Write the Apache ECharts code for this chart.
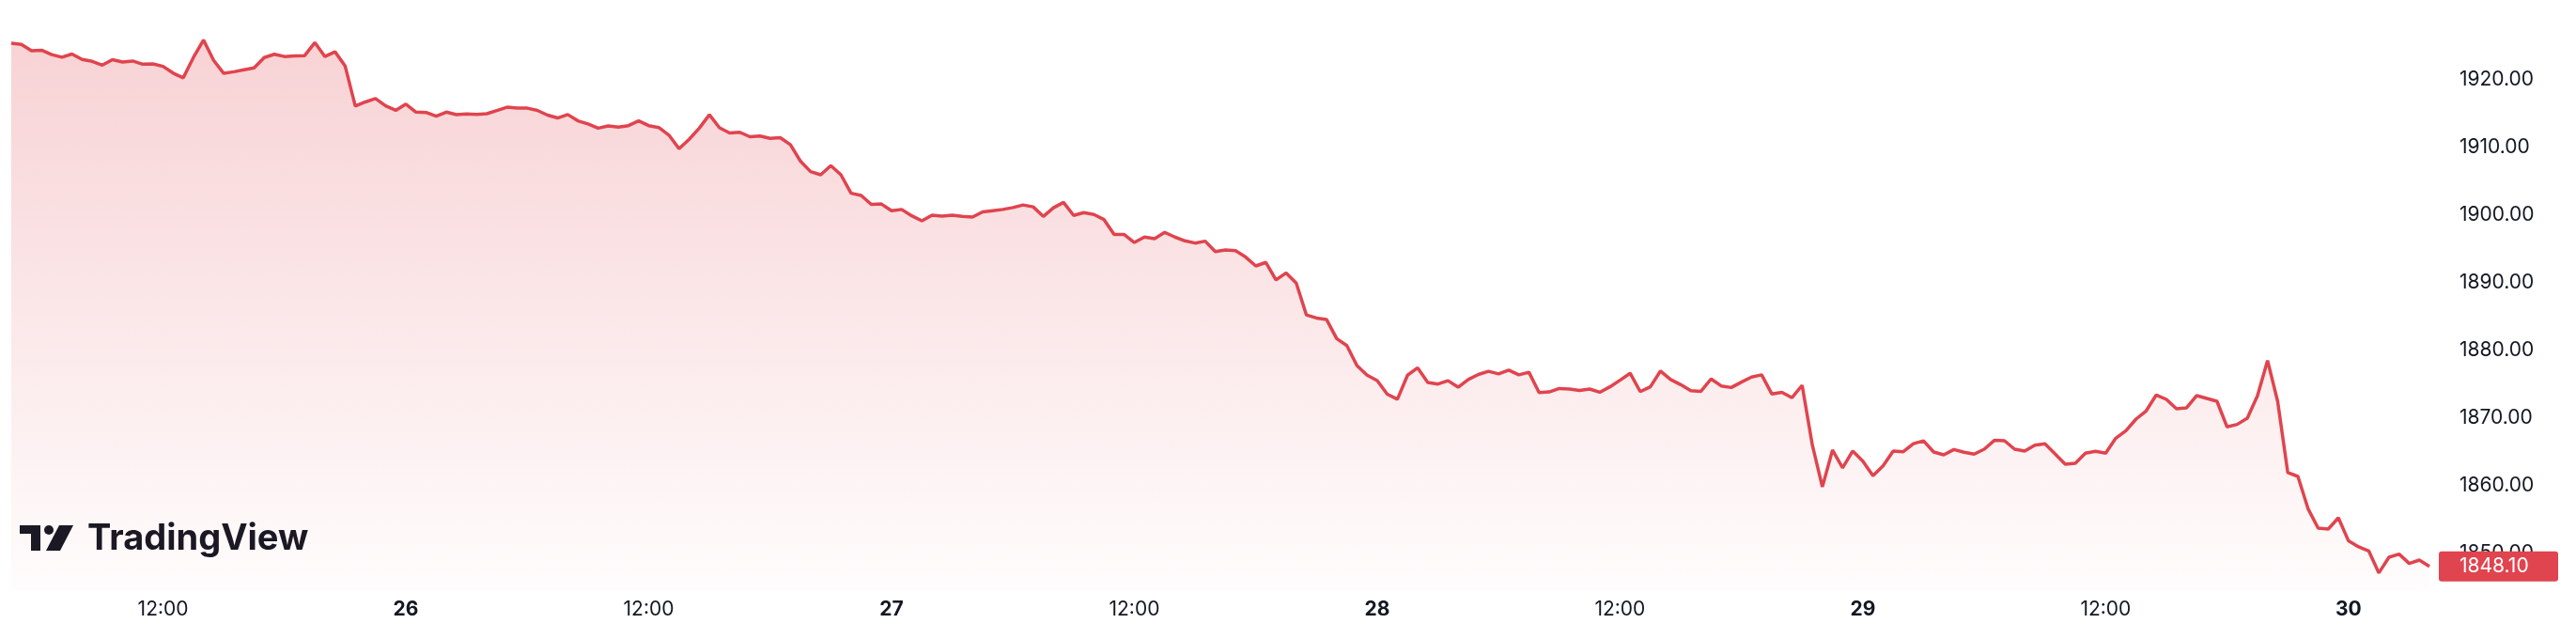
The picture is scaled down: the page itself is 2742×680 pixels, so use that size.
<!DOCTYPE html>
<html>
<head>
<meta charset="utf-8">
<script src="https://cdn.jsdelivr.net/npm/echarts@6/dist/echarts.min.js"></script>
<style>
  html, body { margin: 0; padding: 0; background: #ffffff; }
  #chart { width: 2742px; height: 680px; }
</style>
</head>
<body>
<div id="chart"></div>
<script>
// 30-minute closes, from the 25th 04:30 to the 30th 04:00
const startDay = 25;
const startMinute = 4 * 60 + 30;
const stepMinutes = 30;

const prices = [
  1925.42, 1925.25, 1924.31, 1924.39, 1923.73, 1923.35, 1923.82, 1923.03, 1922.74, 1922.18,
  1922.98, 1922.65, 1922.79, 1922.32, 1922.37, 1922.00, 1921.00, 1920.30, 1923.30, 1925.90,
  1922.88, 1920.96, 1921.20, 1921.48, 1921.76, 1923.30, 1923.78, 1923.45, 1923.54, 1923.59,
  1925.51, 1923.45, 1924.15, 1922.04, 1916.13, 1916.74, 1917.25, 1916.17, 1915.50, 1916.41,
  1915.24, 1915.19, 1914.63, 1915.24, 1914.86, 1914.96, 1914.91, 1915.00, 1915.48, 1915.96,
  1915.82, 1915.82, 1915.49, 1914.79, 1914.37, 1914.88, 1913.95, 1913.48, 1912.87, 1913.20,
  1913.01, 1913.24, 1913.95, 1913.24, 1912.96, 1911.83, 1909.82, 1911.22, 1912.87, 1914.84,
  1912.91, 1912.16, 1912.26, 1911.60, 1911.69, 1911.36, 1911.46, 1910.43, 1907.99, 1906.44,
  1905.97, 1907.33, 1905.97, 1903.25, 1902.92, 1901.60, 1901.65, 1900.66, 1900.85, 1899.91,
  1899.16, 1900.00, 1899.87, 1900.00, 1899.82, 1899.72, 1900.48, 1900.67, 1900.85, 1901.13,
  1901.51, 1901.23, 1899.82, 1901.09, 1901.89, 1899.96, 1900.38, 1900.10, 1899.35, 1897.15,
  1897.15, 1895.97, 1896.77, 1896.54, 1897.47, 1896.77, 1896.21, 1895.88, 1896.16, 1894.61,
  1894.85, 1894.75, 1893.81, 1892.50, 1893.02, 1890.43, 1891.47, 1889.97, 1885.27, 1884.80,
  1884.57, 1881.75, 1880.72, 1877.77, 1876.36, 1875.56, 1873.54, 1872.79, 1876.36, 1877.44,
  1875.28, 1875.04, 1875.54, 1874.58, 1875.71, 1876.46, 1876.93, 1876.55, 1877.11, 1876.41,
  1876.79, 1873.78, 1873.88, 1874.39, 1874.30, 1874.11, 1874.30, 1873.83, 1874.63, 1875.61,
  1876.64, 1873.92, 1874.63, 1876.97, 1875.71, 1874.95, 1874.06, 1873.97, 1875.80, 1874.77,
  1874.53, 1875.33, 1876.08, 1876.41, 1873.59, 1873.83, 1873.03, 1874.86, 1866.09, 1859.84,
  1865.29, 1862.66, 1865.15, 1863.65, 1861.49, 1862.94, 1865.15, 1865.05, 1866.23, 1866.65,
  1865.00, 1864.59, 1865.37, 1864.96, 1864.68, 1865.42, 1866.72, 1866.67, 1865.42, 1865.14,
  1866.02, 1866.21, 1864.73, 1863.20, 1863.34, 1864.82, 1865.10, 1864.82, 1867.04, 1868.15,
  1869.86, 1871.07, 1873.43, 1872.78, 1871.39, 1871.53, 1873.34, 1872.92, 1872.50, 1868.71,
  1869.08, 1870.00, 1873.29, 1878.52, 1872.46, 1861.95, 1861.39, 1856.62, 1853.75, 1853.61,
  1855.28, 1851.86, 1850.98, 1850.37, 1847.13, 1849.45, 1849.91, 1848.52, 1849.03, 1848.10
];

const yTicks = [1850, 1860, 1870, 1880, 1890, 1900, 1910, 1920];
const xTickLabels = ['12:00', '26', '12:00', '27', '12:00', '28', '12:00', '29', '12:00', '30'];

function pad(n) { return (n < 10 ? '0' : '') + n; }
const categories = prices.map(function (_, i) {
  const m = startMinute + i * stepMinutes;
  const day = startDay + Math.floor(m / 1440);
  const mm = m % 1440;
  return day + ' ' + pad(Math.floor(mm / 60)) + ':' + pad(mm % 60);
});

const lineColor = '#e0444e';
const textColor = '#131722';
const fontFamily = 'Inter, Roboto, sans-serif';

const chart = echarts.init(document.getElementById('chart'), null, { renderer: 'canvas' });

chart.setOption({
  animation: false,
  backgroundColor: '#ffffff',
  grid: { left: 12, right: 156, top: 13, bottom: 19, containLabel: false },
  xAxis: {
    type: 'category',
    data: categories,
    boundaryGap: false,
    axisLine: { show: false },
    axisTick: { show: false },
    splitLine: { show: false },
    axisLabel: {
      margin: -23,
      verticalAlign: 'top',
      fontFamily: fontFamily,
      fontSize: 21,
      color: textColor,
      interval: function (index, value) {
        return value.slice(-5) === '12:00' || value.slice(-5) === '00:00';
      },
      formatter: function (value) {
        const t = value.slice(-5);
        if (t === '00:00') {
          const day = value.split(' ')[0];
          const lbl = xTickLabels.find(function (l) { return l === day; });
          return '{b|' + (lbl || day) + '}';
        }
        return t;
      },
      rich: {
        b: { fontWeight: 'bold', fontSize: 21, fontFamily: fontFamily, color: textColor }
      }
    }
  },
  yAxis: {
    type: 'value',
    position: 'right',
    min: 1840,
    max: 1930,
    interval: 10,
    axisLine: { show: false },
    axisTick: { show: false },
    splitLine: { show: false },
    axisLabel: {
      margin: 32,
      align: 'left',
      fontFamily: fontFamily,
      fontSize: 21,
      color: textColor,
      formatter: function (v) {
        return yTicks.indexOf(v) >= 0 ? v.toFixed(2) : '';
      }
    }
  },
  series: [{
    type: 'line',
    data: prices,
    symbol: 'none',
    showSymbol: false,
    lineStyle: { color: lineColor, width: 3.5 },
    areaStyle: {
      origin: 1844.5,
      color: new echarts.graphic.LinearGradient(0, 0, 0, 1, [
        { offset: 0, color: 'rgba(224, 68, 78, 0.34)' },
        { offset: 1, color: 'rgba(224, 68, 78, 0.02)' }
      ])
    },
    endLabel: {
      show: true,
      distance: 10,
      formatter: function (p) { return Number(p.value).toFixed(2); },
      backgroundColor: lineColor,
      color: '#ffffff',
      fontFamily: fontFamily,
      fontSize: 21,
      padding: [6, 12, 5, 22],
      width: 93,
      borderRadius: 3
    }
  }],
  graphic: [
    { type: 'rect', shape: { x: 21, y: 559, width: 22, height: 9 }, style: { fill: textColor } },
    { type: 'rect', shape: { x: 33, y: 559, width: 10, height: 27 }, style: { fill: textColor } },
    { type: 'circle', shape: { cx: 52, cy: 564, r: 5 }, style: { fill: textColor } },
    { type: 'polygon', shape: { points: [[63, 559], [78, 559], [64, 586], [49, 586]] }, style: { fill: textColor } },
    {
      type: 'text', left: 93, top: 555,
      style: { text: 'TradingView', fill: textColor, font: '700 38px Inter, Roboto, sans-serif' }
    }
  ]
});
</script>
</body>
</html>
